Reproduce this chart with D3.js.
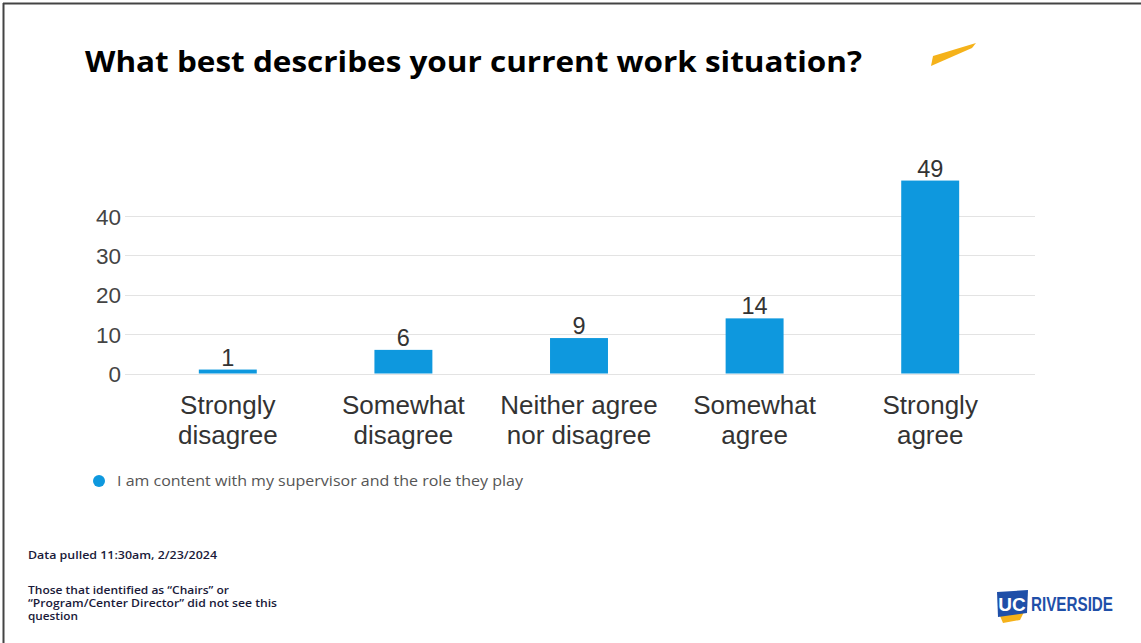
<!DOCTYPE html>
<html><head><meta charset="utf-8">
<script src="https://cdn.jsdelivr.net/npm/d3@7"></script>
<style>body{margin:0;background:#fff}svg{display:block}</style>
</head><body>
<svg id="c" width="1141" height="643"></svg>
<script>
const categories = [["Strongly","disagree"],["Somewhat","disagree"],["Neither agree","nor disagree"],["Somewhat","agree"],["Strongly","agree"]];
const values = [1, 6, 9, 14, 49];
const yTicks = [0, 10, 20, 30, 40];
const seriesName = "I am content with my supervisor and the role they play";
const title = "What best describes your current work situation?";
const notes = ["Data pulled 11:30am, 2/23/2024", "Those that identified as \u201cChairs\u201d or", "\u201cProgram/Center Director\u201d did not see this", "question"];

const svg = d3.select("#c");
// slide border
svg.append("line").attr("x1",3).attr("x2",1141).attr("y1",3.5).attr("y2",3.5).attr("stroke","#444").attr("stroke-width",2);
svg.append("line").attr("x1",3.5).attr("x2",3.5).attr("y1",3).attr("y2",643).attr("stroke","#444").attr("stroke-width",2);

svg.append("text").attr("x",85).attr("y",72).text(title)
  .attr("font-family","Open Sans, sans-serif").attr("font-weight","bold").attr("font-size",29)
  .attr("fill","#000").attr("textLength",777).attr("lengthAdjust","spacingAndGlyphs");

// swoosh
svg.append("path").attr("d","M931,66 L933,56 L976,43 L972,48 Z").attr("fill","#f5b21a");

const x = d3.scaleBand().domain(d3.range(values.length)).range([140,1018]).paddingInner(0.67).paddingOuter(0.335);
const y = d3.scaleLinear().domain([0,40]).range([373.5,216]);

const g = svg.append("g");
g.selectAll("line.grid").data(yTicks).join("line")
  .attr("x1",125).attr("x2",1035).attr("y1",d=>Math.round(y(d))+0.5).attr("y2",d=>Math.round(y(d))+0.5)
  .attr("stroke","#e3e3e3").attr("stroke-width",1);

const yAxis = d3.axisLeft(y).tickValues(yTicks).tickSize(0).tickPadding(0);
const ya = svg.append("g").attr("transform","translate(121,0)").call(yAxis);
ya.select(".domain").remove();
ya.selectAll("text").attr("font-family","Liberation Sans, Arial, sans-serif").attr("font-size",22.5).attr("fill","#444").attr("dy","0.36em");

g.selectAll("rect.bar").data(values).join("rect")
  .attr("x",(d,i)=>x(i)).attr("width",x.bandwidth())
  .attr("y",d=>y(d)).attr("height",d=>y(0)-y(d)).attr("fill","#0e98de");

g.selectAll("text.val").data(values).join("text")
  .attr("x",(d,i)=>x(i)+x.bandwidth()/2).attr("y",d=>y(d)-4)
  .attr("text-anchor","middle").attr("font-family","Liberation Sans, Arial, sans-serif").attr("font-size",23.5).attr("fill","#333")
  .text(d=>d);

const xAxis = d3.axisBottom(x).tickSize(0).tickFormat(()=>"");
const xa = svg.append("g").attr("transform",`translate(0,${y(0)})`).call(xAxis);
xa.select(".domain").remove();
xa.selectAll(".tick").each(function(d){
  const t = d3.select(this).append("text").attr("text-anchor","middle")
    .attr("font-family","Liberation Sans, Arial, sans-serif").attr("font-size",26).attr("fill","#333");
  categories[d].forEach((line,k)=>t.append("tspan").attr("x",0).attr("y",40+k*30).text(line));
});

// legend
svg.append("circle").attr("cx",99).attr("cy",481).attr("r",6).attr("fill","#0e98de");
svg.append("text").attr("x",117).attr("y",486).text(seriesName)
  .attr("font-family","Open Sans, sans-serif").attr("font-size",15).attr("fill","#555")
  .attr("textLength",406).attr("lengthAdjust","spacingAndGlyphs");

// notes
const ny = [559, 594, 607, 620];
const nw = [189, 201, 249, 50];
notes.forEach((n,i)=>svg.append("text").attr("x",28).attr("y",ny[i]).text(n)
  .attr("font-family","Open Sans, sans-serif").attr("font-size",11).attr("font-weight","600").attr("fill","#1a1a3a")
  .attr("textLength",nw[i]).attr("lengthAdjust","spacingAndGlyphs"));

// UCR logo
svg.append("path").attr("d","M1000,616 L1024,612 L1020,620 L1003,623 Z").attr("fill","#f5b21a");
svg.append("path").attr("d","M997,592 L1028,590 L1027,613 L998,617 Z").attr("fill","#1f4fa8");
svg.append("text").attr("x",1012).attr("y",611).attr("text-anchor","middle").text("UC")
  .attr("font-family","Liberation Sans Narrow, Liberation Sans, sans-serif").attr("font-weight","bold").attr("font-size",19).attr("fill","#fff");
svg.append("text").attr("x",1031).attr("y",611).text("RIVERSIDE")
  .attr("font-family","Liberation Sans Narrow, Liberation Sans, sans-serif").attr("font-weight","bold").attr("font-size",20)
  .attr("fill","#1f4fa8").attr("textLength",82).attr("lengthAdjust","spacingAndGlyphs");
</script>
</body></html>
